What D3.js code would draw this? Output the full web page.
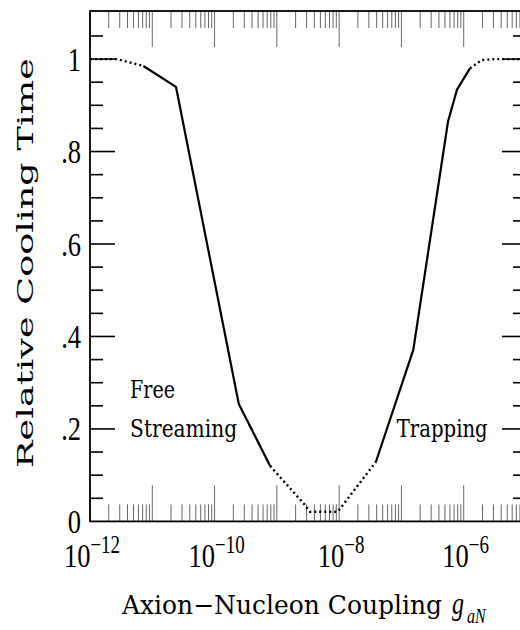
<!DOCTYPE html>
<html>
<head>
<meta charset="utf-8">
<script src="https://cdn.jsdelivr.net/npm/d3@7"></script>
<style>
  html, body { margin: 0; padding: 0; background: #fff; }
  svg { display: block; }
</style>
</head>
<body>
<svg id="chart" width="520" height="630"></svg>
<script>
// ---- data ----
const yMajorTicks = [0, 0.2, 0.4, 0.6, 0.8, 1];
const yTickLabels = ["0", ".2", ".4", ".6", ".8", "1"];
const yMinorTicks = [0.05,0.1,0.15,0.25,0.3,0.35,0.45,0.5,0.55,0.65,0.7,0.75,0.85,0.9,0.95,1.05];
const xDecadeExps = [-12, -11, -10, -9, -8, -7, -6, -5];
const xLabelExps = [-12, -10, -8, -6];
const xMinorMult = [2, 3, 4, 5, 6, 7, 8, 9];

// curve pieces: [coupling, relative cooling time]
const dottedLow = [[1e-12, 1.0], [2.7e-12, 1.0], [7.2e-12, 0.985]];
const solidFree = [[7.2e-12, 0.985], [2.4e-11, 0.94], [2.45e-10, 0.254], [7.8e-10, 0.12]];
const dottedMid = [[7.8e-10, 0.12], [2.8e-9, 0.036], [3.4e-9, 0.021], [9.5e-9, 0.021], [3.9e-8, 0.129]];
const solidTrap = [[3.9e-8, 0.129], [1.55e-7, 0.371], [5.6e-7, 0.865], [7.8e-7, 0.934], [1.26e-6, 0.98]];
const dottedHigh = [[1.26e-6, 0.98], [1.95e-6, 0.998], [3.2e-6, 1.0], [1e-5, 1.0]];

const freeLabel = {lines: ["Free", "Streaming"], x: 4.4e-12, widths: [45, 107]};
const trapLabel = {text: "Trapping", x: 8.4e-8, width: 91};

const yTitle = "Relative  Cooling  Time";
const xTitle = "Axion\u2212Nucleon Coupling";

// ---- layout ----
const L = 90, R = 526, T = 11, B = 521.4;
const S = 1.3; // vertical stretch of the original lettering

const svg = d3.select("#chart");
const x = d3.scaleLog().domain([1e-12, 1e-5]).range([L, R]);
const y = d3.scaleLinear().domain([0, 1.104]).range([B, T]);

// x ticks (top and bottom, inward)
const xMajor = xDecadeExps.map(e => Math.pow(10, e));
const xMinor = [];
xDecadeExps.slice(0, -1).forEach(e => xMinorMult.forEach(m => xMinor.push(m * Math.pow(10, e))));

const gx = svg.append("g").attr("stroke", "#666").attr("stroke-width", 1);
function xTicks(vals, len) {
  gx.selectAll(null).data(vals).join("line")
    .attr("x1", d => x(d)).attr("x2", d => x(d))
    .attr("y1", B).attr("y2", B - len);
  gx.selectAll(null).data(vals).join("line")
    .attr("x1", d => x(d)).attr("x2", d => x(d))
    .attr("y1", T).attr("y2", T + len);
}
xTicks(xMinor, 17);
xTicks(xMajor, 36);

// y ticks (left and right, inward)
const gy = svg.append("g").attr("stroke", "#000").attr("stroke-width", 1.6);
function yTicks(vals, lenL, lenR) {
  gy.selectAll(null).data(vals).join("line")
    .attr("x1", L).attr("x2", L + lenL)
    .attr("y1", d => y(d)).attr("y2", d => y(d));
  gy.selectAll(null).data(vals).join("line")
    .attr("x1", R).attr("x2", R - lenR)
    .attr("y1", d => y(d)).attr("y2", d => y(d));
}
yTicks(yMinorTicks, 13, 13);
yTicks(yMajorTicks.filter(v => v > 0), 25, 24);

// frame
svg.append("rect").attr("x", L).attr("y", T).attr("width", R - L).attr("height", B - T)
  .attr("fill", "none").attr("stroke", "#000").attr("stroke-width", 1.8);

// curve
const line = d3.line().x(d => x(d[0])).y(d => y(d[1]));
const gc = svg.append("g").attr("fill", "none").attr("stroke", "#000");
[solidFree, solidTrap].forEach(p => gc.append("path").attr("d", line(p))
  .attr("stroke-width", 2.2).attr("stroke-linejoin", "round"));
[dottedLow, dottedMid, dottedHigh].forEach(p => gc.append("path").attr("d", line(p))
  .attr("stroke-width", 2.4).attr("stroke-dasharray", "2,3"));

// x tick labels: 10^n
const serif = "'Liberation Serif', 'Times New Roman', serif";
xLabelExps.forEach(e => {
  const t = svg.append("text")
    .attr("transform", `translate(${x(Math.pow(10, e)) + 2},567) scale(1,${S})`)
    .attr("text-anchor", "middle").attr("font-family", serif).attr("font-size", 26.5).attr("fill", "#000");
  t.append("tspan").text("10");
  t.append("tspan").attr("dy", -10.5).attr("font-size", 19).text("\u2212" + Math.abs(e));
});

// y tick labels
yMajorTicks.forEach((v, i) => {
  svg.append("text")
    .attr("transform", `translate(81,${y(v) + 11.5}) scale(1,${S})`)
    .attr("text-anchor", "end").attr("font-family", serif).attr("font-size", 26.5).attr("fill", "#000")
    .text(yTickLabels[i]);
});

// typewriter-like texts
const tt = "'DejaVu Serif', serif";
freeLabel.lines.forEach((s, i) => {
  svg.append("text")
    .attr("transform", `translate(${x(freeLabel.x)},${398.3 + i * 38.4}) scale(1,${S})`)
    .attr("font-family", tt).attr("font-size", 19).attr("fill", "#000")
    .attr("textLength", freeLabel.widths[i]).attr("lengthAdjust", "spacingAndGlyphs")
    .text(s);
});
svg.append("text")
  .attr("transform", `translate(${x(trapLabel.x)},436.7) scale(1,${S})`)
  .attr("font-family", tt).attr("font-size", 19).attr("fill", "#000")
  .attr("textLength", trapLabel.width).attr("lengthAdjust", "spacingAndGlyphs")
  .text(trapLabel.text);

// y title
svg.append("text")
  .attr("transform", `translate(32.5,263) rotate(-90)`)
  .attr("text-anchor", "middle").attr("font-family", tt).attr("font-size", 23).attr("fill", "#000")
  .attr("textLength", 410).attr("lengthAdjust", "spacingAndGlyphs")
  .text(yTitle);

// x title
svg.append("text")
  .attr("transform", `translate(122,614) scale(1,${S})`)
  .attr("font-family", tt).attr("font-size", 20).attr("fill", "#000")
  .attr("textLength", 320).attr("lengthAdjust", "spacingAndGlyphs")
  .text(xTitle);
svg.append("text")
  .attr("transform", `translate(452,614) scale(1,${S})`)
  .attr("font-family", serif).attr("font-style", "italic").attr("font-size", 24).attr("fill", "#000")
  .text("g");
svg.append("text")
  .attr("transform", `translate(467,623) scale(1,${S})`)
  .attr("font-family", serif).attr("font-style", "italic").attr("font-size", 16).attr("fill", "#000")
  .text("aN");
</script>
</body>
</html>
